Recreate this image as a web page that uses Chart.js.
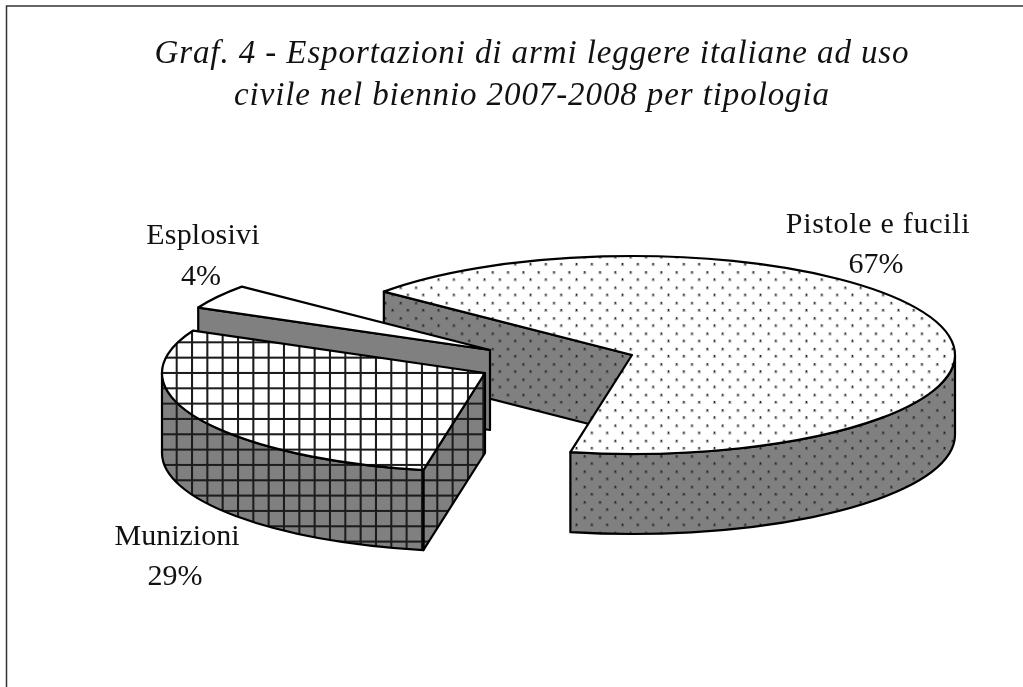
<!DOCTYPE html>
<html>
<head>
<meta charset="utf-8">
<title>Graf. 4</title>
<script src="https://cdn.jsdelivr.net/npm/chart.js@4"></script>
<style>
  html, body { margin: 0; padding: 0; background: #fff; }
  canvas { display: block; }
</style>
</head>
<body>
<canvas id="pie3d" width="1023" height="687"></canvas>
<script>
const categories = ['Pistole e fucili', 'Munizioni', 'Esplosivi'];
const shares = [67, 29, 4];
const titleLines = [
  'Graf. 4 - Esportazioni di armi leggere italiane ad uso',
  'civile nel biennio 2007-2008 per tipologia'
];

// look of the fake 3D
const squash = 0.3065;
const depth = 80;
const sliceShift = [[100, 0], [-47, 18], [-42, -5]];
const labelSpots = [[878, 233, 273, 0.7], [177, 545, 585, 0], [203, 244, 285, 0.2]];

function tile(w, h, paint) {
  const c = document.createElement('canvas');
  c.width = w;
  c.height = h;
  paint(c.getContext('2d'));
  return c;
}

function dotted(ctx, bg, halo) {
  const t = tile(15, 15, g => {
    g.fillStyle = bg;
    g.fillRect(0, 0, 15, 15);
    [[0, 0], [7, 7]].forEach(([x, y]) => {
      g.fillStyle = halo;
      g.fillRect(x, y, 3, 3);
      g.fillStyle = '#222';
      g.fillRect(x + 1, y + 1, 1, 1);
      g.fillRect(x + 1, y, 1, 1);
    });
  });
  const p = ctx.createPattern(t, 'repeat');
  p.setTransform(new DOMMatrix([1.022, 0, 0, 1.022, 0.6, 10.5]));
  return p;
}

function gridded(ctx, bg) {
  const t = tile(15, 15, g => {
    g.fillStyle = bg;
    g.fillRect(0, 0, 15, 15);
    g.fillStyle = '#1c1c1c';
    g.fillRect(0, 0, 15, 2);
    g.fillRect(0, 0, 2, 15);
  });
  const p = ctx.createPattern(t, 'repeat');
  p.setTransform(new DOMMatrix([1.022, 0, 0, 1.022, 7, 4]));
  return p;
}

const canvas = document.getElementById('pie3d');
const ctx = canvas.getContext('2d');
const topFills = [dotted(ctx, '#fff', '#b4b4b4'), gridded(ctx, '#fff'), '#fff'];
const sideFills = [dotted(ctx, '#808080', '#606060'), gridded(ctx, '#808080'), '#808080'];

function paintPath(c, fill) {
  c.fillStyle = fill;
  c.fill();
  c.strokeStyle = '#000';
  c.lineWidth = 2.2;
  c.lineJoin = 'round';
  c.stroke();
}

// Chart.js angles: radians from the +x axis, clockwise
function rim(cx, cy, r, a) {
  return [cx + r * Math.cos(a), cy + r * squash * Math.sin(a)];
}

function drawWall(c, cx, cy, r, a, fill) {
  const [x, y] = rim(cx, cy, r, a);
  c.beginPath();
  c.moveTo(cx, cy);
  c.lineTo(x, y);
  c.lineTo(x, y + depth);
  c.lineTo(cx, cy + depth);
  c.closePath();
  paintPath(c, fill);
}

function drawSlice(c, arc, i) {
  const p = arc.getProps(['x', 'y', 'startAngle', 'endAngle', 'outerRadius']);
  const cx = p.x + sliceShift[i][0];
  const cy = p.y + sliceShift[i][1];
  const r = p.outerRadius;
  const side = sideFills[i];

  // cut faces, only those turned to the viewer
  if (Math.cos(p.startAngle) < 0) drawWall(c, cx, cy, r, p.startAngle, side);
  if (Math.cos(p.endAngle) > 0) drawWall(c, cx, cy, r, p.endAngle, side);

  // outer wall, front half of the rim
  for (let turn = -2; turn <= 2; turn++) {
    const a0 = Math.max(p.startAngle, turn * 2 * Math.PI);
    const a1 = Math.min(p.endAngle, turn * 2 * Math.PI + Math.PI);
    if (a1 <= a0) continue;
    c.beginPath();
    c.ellipse(cx, cy, r, r * squash, 0, a0, a1);
    c.ellipse(cx, cy + depth, r, r * squash, 0, a1, a0, true);
    c.closePath();
    paintPath(c, side);
  }

  // top face
  c.beginPath();
  c.moveTo(cx, cy);
  c.ellipse(cx, cy, r, r * squash, 0, p.startAngle, p.endAngle);
  c.closePath();
  paintPath(c, arc.options.backgroundColor);
}

const pie3d = {
  id: 'pie3d',
  beforeDraw(chart) {
    const c = chart.ctx;
    c.save();
    c.strokeStyle = '#333';
    c.lineWidth = 1.5;
    c.beginPath();
    c.moveTo(6.5, chart.height);
    c.lineTo(6.5, 6);
    c.lineTo(chart.width, 6);
    c.stroke();
    c.restore();
    // the title box is painted right after this hook
    c.letterSpacing = '0.9px';
  },
  beforeDatasetsDraw(chart) {
    const c = chart.ctx;
    const arcs = chart.getDatasetMeta(0).data;
    c.letterSpacing = '0px';
    c.save();
    [0, 2, 1].forEach(i => drawSlice(c, arcs[i], i));
    c.restore();
    return false;
  },
  afterDraw(chart) {
    const c = chart.ctx;
    c.save();
    c.font = '30px "Liberation Serif"';
    c.fillStyle = '#111';
    c.textAlign = 'center';
    c.textBaseline = 'alphabetic';
    categories.forEach((name, i) => {
      const [x, y1, y2, spacing] = labelSpots[i];
      c.letterSpacing = spacing + 'px';
      c.fillText(name, x, y1);
      c.letterSpacing = '0px';
      c.fillText(shares[i] + '%', x - 2, y2);
    });
    c.restore();
  }
};

new Chart(ctx, {
  type: 'pie',
  data: {
    labels: categories,
    datasets: [{ data: shares, backgroundColor: topFills, borderWidth: 0 }]
  },
  options: {
    responsive: false,
    animation: false,
    rotation: 309.8,
    radius: 323,
    layout: { padding: { left: 41, right: 0, top: 0, bottom: 108 } },
    plugins: {
      legend: { display: false },
      tooltip: { enabled: false },
      title: {
        display: true,
        text: titleLines,
        color: '#111',
        font: { family: '"Liberation Serif"', size: 33, style: 'italic', weight: 'normal', lineHeight: 1.273 },
        padding: { top: 33, bottom: 14 }
      }
    }
  },
  plugins: [pie3d]
});
</script>
</body>
</html>
